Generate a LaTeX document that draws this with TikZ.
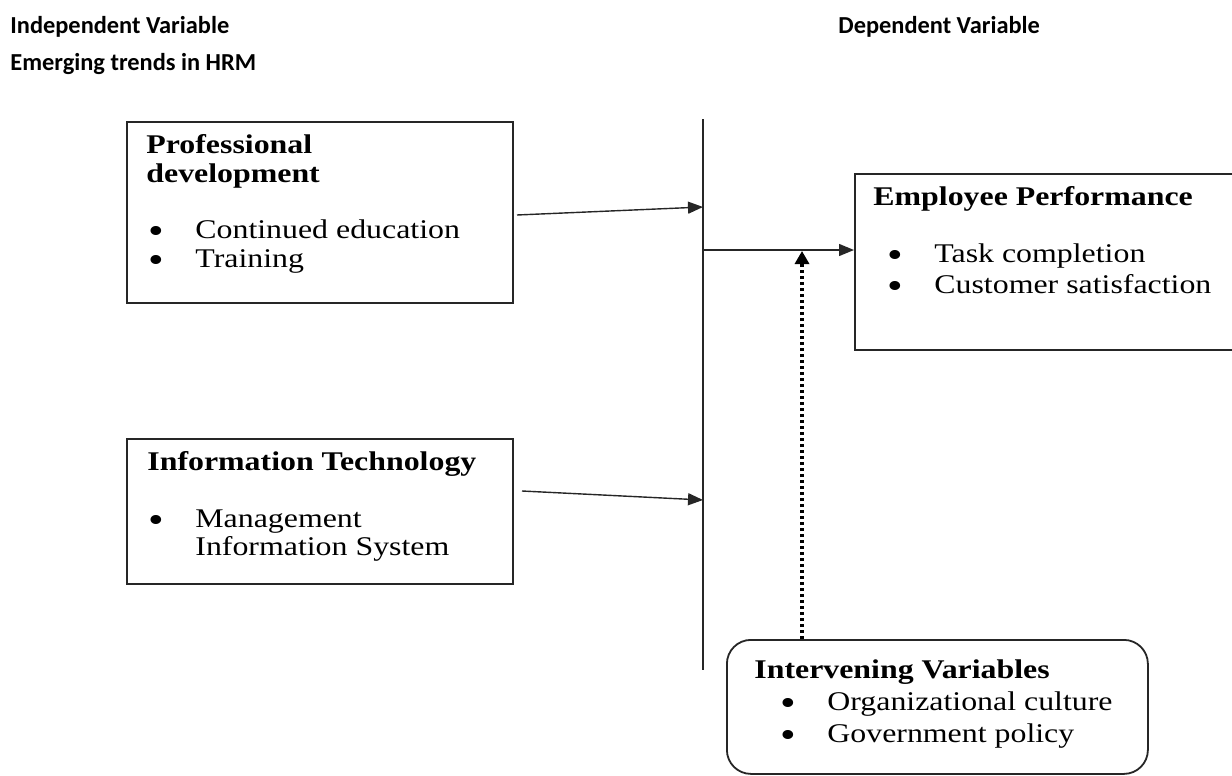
\documentclass[tikz,border=0pt]{standalone}
\usepackage{fontspec}
\setmainfont{Liberation Serif}[FakeStretch=1.18]
\newfontfamily\headfont{Carlito}
\usetikzlibrary{arrows.meta}
\newcommand{\bigbul}{\raisebox{-2.8pt}[0pt][0pt]{\scalebox{1.4}{\textbullet}}}
\tikzset{
  box/.style={draw=black!85, line width=0.9pt, inner sep=0pt, anchor=north west},
  rbox/.style={box, rounded corners=12pt},
  txt/.style={inner sep=0pt, anchor=base west, font=\fontsize{13.5}{16}\selectfont},
  btxt/.style={txt, font=\fontsize{13.5}{16}\selectfont\bfseries},
  bul/.style={txt},
  htxt/.style={inner sep=0pt, anchor=base west, font=\headfont\fontsize{12.2}{14}\selectfont\bfseries},
  conn/.style={draw=black!85, line width=0.7pt},
  arr/.style={conn, -{Triangle[length=7.5pt,width=6pt]}},
  dotarr/.style={draw=black, line width=1.6pt, dash pattern=on 1.6pt off 1.4pt, -{Triangle[length=6.5pt,width=7pt]}}
}
\begin{document}
\begin{tikzpicture}[x=0.5pt,y=-0.5pt]
\useasboundingbox (0,0) rectangle (1232,776);
% headings
\node[htxt] (hiv) at (10,33) {Independent Variable};
\node[htxt] (hem) at (10,70) {Emerging trends in HRM};
\node[htxt] (hdv) at (838,33) {Dependent Variable};
% boxes
\node[box, minimum width=193pt, minimum height=90.5pt] (pd) at (126,121) {};
\node[box, minimum width=193pt, minimum height=72.5pt] (it) at (126,438) {};
\node[box, minimum width=195pt, minimum height=88pt] (ep) at (854,173) {};
\node[rbox, minimum width=210.5pt, minimum height=67pt] (iv) at (726,639) {};
% professional development
\node[btxt] (pd1) at (146,153) {Professional};
\node[btxt] (pd2) at (146,182) {development};
\node[bul] (pdb1) at (148,238) {\bigbul};
\node[txt] (pdt1) at (195,238) {Continued education};
\node[bul] (pdb2) at (148,267) {\bigbul};
\node[txt] (pdt2) at (195,267) {Training};
% information technology
\node[btxt] (it1) at (147,470) {Information Technology};
\node[bul] (itb1) at (148,527) {\bigbul};
\node[txt] (itt1) at (195,527) {Management};
\node[txt] (itt2) at (195,555) {Information System};
% employee performance
\node[btxt] (ep1) at (873,205) {Employee Performance};
\node[bul] (epb1) at (887,262) {\bigbul};
\node[txt] (ept1) at (934,262) {Task completion};
\node[bul] (epb2) at (887,293) {\bigbul};
\node[txt] (ept2) at (934,293) {Customer satisfaction};
% intervening variables
\node[btxt] (iv1) at (754,678) {Intervening Variables};
\node[bul] (ivb1) at (780,710) {\bigbul};
\node[txt] (ivt1) at (827,710) {Organizational culture};
\node[bul] (ivb2) at (780,742) {\bigbul};
\node[txt] (ivt2) at (827,742) {Government policy};
% vertical line
\coordinate (vtop) at (703,119);
\coordinate (vbot) at (703,670);
\draw[conn] (vtop) -- (vbot);
% connectors
\coordinate (a1s) at (517,215);
\coordinate (a1e) at (703,207);
\draw[arr] (a1s) -- (a1e);
\coordinate (a2s) at (522,491);
\coordinate (a2e) at (703,500);
\draw[arr] (a2s) -- (a2e);
\coordinate (hs) at (703,250);
\draw[arr] (hs) -- (hs -| ep.west);
\coordinate (dtip) at (802,251);
\draw[dotarr] (dtip |- iv.north) -- (dtip);
\end{tikzpicture}
\end{document}
